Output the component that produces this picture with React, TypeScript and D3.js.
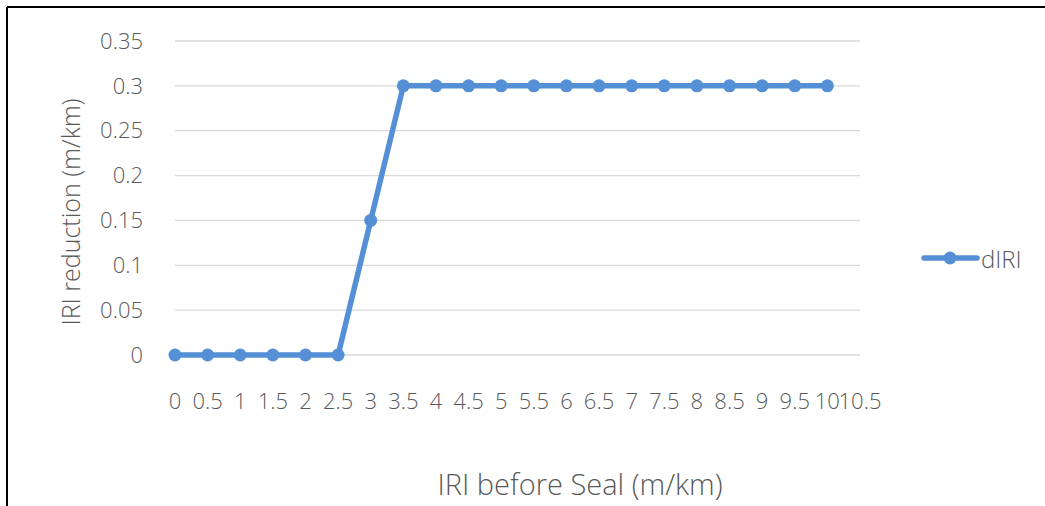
import React from "react";
import * as d3 from "d3";

// category labels on the x axis (one more label than points, like the source sheet)
const categories = [
  "0", "0.5", "1", "1.5", "2", "2.5", "3", "3.5", "4", "4.5", "5",
  "5.5", "6", "6.5", "7", "7.5", "8", "8.5", "9", "9.5", "10", "10.5",
];
// dIRI values for 0 .. 10
const dIRI = [
  0, 0, 0, 0, 0, 0, 0.15, 0.3, 0.3, 0.3, 0.3,
  0.3, 0.3, 0.3, 0.3, 0.3, 0.3, 0.3, 0.3, 0.3, 0.3,
];
const yTicks = [0, 0.05, 0.1, 0.15, 0.2, 0.25, 0.3, 0.35];

const W = 1045;
const H = 506;
const FONT = "'Open Sans', 'Noto Sans', sans-serif";
const TEXT = "#595959";
const BLUE = "#5590d6";

const App: React.FC = () => {
  const left = 175;
  const right = 860;
  const top = 41;
  const bottom = 355;

  const x = d3
    .scalePoint<string>()
    .domain(categories)
    .range([left, right]);

  const y = d3.scaleLinear().domain([0, 0.35]).range([bottom, top]);

  const line = d3
    .line<number>()
    .x((_, i) => x(categories[i]) ?? 0)
    .y((d) => y(d));

  return (
    <svg
      width={W}
      height={H}
      style={{ position: "absolute", left: 0, top: 0 }}
      fontFamily={FONT}
      fontWeight={300}
    >
      <rect width={W} height={H} fill="#fff" />
      {/* frame: only left and top edges visible in the crop */}
      <line x1={7} y1={7} x2={W} y2={7} stroke="#000" strokeWidth={2} />
      <line x1={7} y1={7} x2={7} y2={H} stroke="#000" strokeWidth={2} />

      {/* gridlines + y ticks */}
      {yTicks.map((t) => (
        <g key={t}>
          <line
            x1={left}
            x2={right}
            y1={y(t)}
            y2={y(t)}
            stroke="#d9d9d9"
            strokeWidth={1.3}
          />
          <text
            x={143}
            y={y(t)}
            dy="0.35em"
            textAnchor="end"
            fontSize={22}
            fill={TEXT}
          >
            {t}
          </text>
        </g>
      ))}

      {/* x tick labels */}
      {categories.map((c) => (
        <text
          key={c}
          x={x(c)}
          y={401}
          dy="0.35em"
          textAnchor="middle"
          fontSize={22}
          fill={TEXT}
        >
          {c}
        </text>
      ))}

      {/* series */}
      <path
        d={line(dIRI) ?? ""}
        fill="none"
        stroke={BLUE}
        strokeWidth={5.5}
        strokeLinejoin="round"
      />
      {dIRI.map((d, i) => (
        <circle key={i} cx={x(categories[i])} cy={y(d)} r={6.5} fill={BLUE} />
      ))}

      {/* axis titles */}
      <text
        transform={`translate(71,212) rotate(-90)`}
        textAnchor="middle"
        dy="0.35em"
        fontSize={25}
        fill={TEXT}
      >
        IRI reduction (m/km)
      </text>
      <text
        x={580}
        y={485}
        dy="0.35em"
        textAnchor="middle"
        fontSize={29}
        fill={TEXT}
      >
        IRI before Seal (m/km)
      </text>

      {/* legend */}
      <line
        x1={924}
        x2={977}
        y1={258}
        y2={258}
        stroke={BLUE}
        strokeWidth={5.5}
        strokeLinecap="round"
      />
      <circle cx={950} cy={258} r={6.5} fill={BLUE} />
      <text x={981} y={260} dy="0.35em" fontSize={24} fill={TEXT}>
        dIRI
      </text>
    </svg>
  );
};

export default App;
